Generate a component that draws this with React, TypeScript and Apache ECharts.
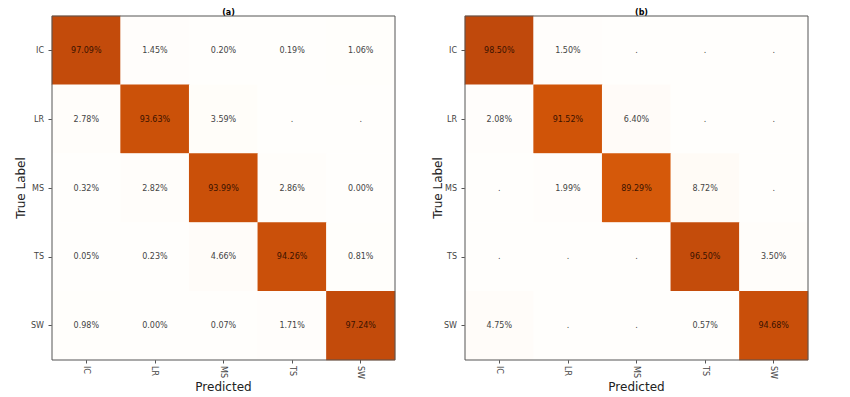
import React, { useEffect, useRef } from "react";
import * as echarts from "echarts";

const categories = ["IC", "LR", "MS", "TS", "SW"];
const titles = ["(a)", "(b)"];
const xAxisTitle = "Predicted";
const yAxisTitle = "True Label";
// rows = true label, cols = predicted; null = "."
const matrixA: (number | null)[][] = [
  [97.09, 1.45, 0.2, 0.19, 1.06],
  [2.78, 93.63, 3.59, null, null],
  [0.32, 2.82, 93.99, 2.86, 0.0],
  [0.05, 0.23, 4.66, 94.26, 0.81],
  [0.98, 0.0, 0.07, 1.71, 97.24],
];
const matrixB: (number | null)[][] = [
  [98.5, 1.5, null, null, null],
  [2.08, 91.52, 6.4, null, null],
  [null, 1.99, 89.29, 8.72, null],
  [null, null, null, 96.5, 3.5],
  [4.75, null, null, 0.57, 94.68],
];

const FONT = "DejaVu Sans";

function buildData(m: (number | null)[][]) {
  const out: any[] = [];
  m.forEach((row, r) => {
    row.forEach((v, c) => {
      const val = v === null ? 0 : v;
      out.push({
        value: [c, r, val],
        label: {
          formatter: v === null ? "." : v.toFixed(2) + "%",
          color: val > 50 ? "#3a1200" : "#444444",
        },
      });
    });
  });
  return out;
}

export default function App() {
  const ref = useRef<HTMLDivElement>(null);
  useEffect(() => {
    if (!ref.current) return;
    const chart = echarts.init(ref.current, null, { renderer: "svg" });
    const grids = [
      { left: 52, top: 16, width: 343, height: 344 },
      { left: 465, top: 16, width: 343, height: 344 },
    ];
    const yNameX = [21, 438];
    const graphics: any[] = [];
    grids.forEach((g, i) => {
      graphics.push({
        type: "text",
        x: g.left + g.width / 2,
        y: 387,
        style: {
          text: xAxisTitle,
          fontSize: 12,
          fontFamily: FONT,
          fill: "#222",
          textAlign: "center",
          textVerticalAlign: "middle",
        },
      });
      graphics.push({
        type: "text",
        x: yNameX[i],
        y: g.top + g.height / 2,
        rotation: Math.PI / 2,
        style: {
          text: yAxisTitle,
          fontSize: 12,
          fontFamily: FONT,
          fill: "#222",
          textAlign: "center",
          textVerticalAlign: "middle",
        },
      });
    });
    chart.setOption({
      animation: false,
      backgroundColor: "#ffffff",
      textStyle: { fontFamily: FONT },
      title: titles.map((t, i) => ({
        text: t,
        left: grids[i].left + grids[i].width / 2,
        textAlign: "center",
        top: 3,
        textStyle: { fontSize: 8, fontWeight: "bold", color: "#000", fontFamily: FONT },
      })),
      graphic: graphics,
      grid: grids.map((g) => ({
        ...g,
        outerBoundsMode: "none",
        containLabel: false,
        show: true,
        borderColor: "#555555",
        borderWidth: 1,
        backgroundColor: "transparent",
        z: 10,
      })),
      xAxis: grids.map((_, i) => ({
        type: "category",
        gridIndex: i,
        data: categories,
        axisLine: { show: false },
        axisTick: { show: true, alignWithLabel: true, length: 3.5, lineStyle: { color: "#555" } },
        axisLabel: { rotate: -90, fontSize: 8, color: "#444", margin: 6, fontFamily: FONT },
        splitLine: { show: false },
        splitArea: { show: false },
      })),
      yAxis: grids.map((_, i) => ({
        type: "category",
        gridIndex: i,
        data: categories,
        inverse: true,
        axisLine: { show: false },
        axisTick: { show: true, alignWithLabel: true, length: 3.5, lineStyle: { color: "#555" } },
        axisLabel: { fontSize: 8, color: "#444", margin: 8, fontFamily: FONT },
        splitLine: { show: false },
        splitArea: { show: false },
      })),
      visualMap: {
        show: false,
        type: "continuous",
        min: 0,
        max: 100,
        seriesIndex: [0, 1],
        dimension: 2,
        inRange: {
          color: [
            "#fffefc",
            "#fffaf5",
            "#fff7ef",
            "#fff3e8",
            "#ffefe0",
            "#fde3cc",
            "#fbcfa8",
            "#f5a86a",
            "#e98032",
            "#d45607",
            "#bc470d",
          ],
        },
      },
      series: [matrixA, matrixB].map((m, i) => ({
        type: "heatmap",
        xAxisIndex: i,
        yAxisIndex: i,
        data: buildData(m),
        label: { show: true, fontSize: 8, fontFamily: FONT },
        itemStyle: { borderWidth: 0 },
        emphasis: { disabled: true },
      })),
    });
    return () => chart.dispose();
  }, []);
  return (
    <div
      ref={ref}
      style={{ position: "absolute", left: 0, top: 0, width: 850, height: 397 }}
    />
  );
}
